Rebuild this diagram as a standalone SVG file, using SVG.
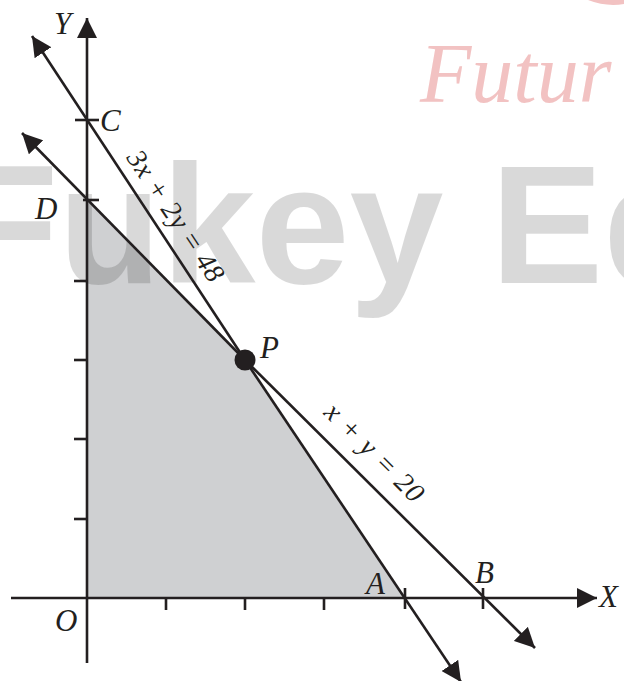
<svg xmlns="http://www.w3.org/2000/svg" width="624" height="681" viewBox="0 0 624 681">
<style>
.ax{stroke:#231f20;stroke-width:2.6;fill:none}
.ln{stroke:#231f20;stroke-width:2.6;fill:none}
.tk{stroke:#231f20;stroke-width:2.6}
.lb{font-family:"Liberation Serif","Times New Roman",serif;font-style:italic;font-size:31px;fill:#231f20}
.eq{font-family:"Liberation Serif","Times New Roman",serif;font-style:italic;font-size:28px;fill:#231f20}
.wm{font-family:"Liberation Sans",Arial,sans-serif;font-weight:bold;font-size:169px;fill:#000;fill-opacity:0.15}
.wp{font-family:"Liberation Serif",serif;font-style:italic;font-size:84px;fill:#f2c2c2}
</style>
<defs>
<marker id="ah" viewBox="0 0 20 20" refX="20" refY="10" markerWidth="20" markerHeight="20" markerUnits="userSpaceOnUse" orient="auto">
<path d="M0,0 L20,10 L0,20 Z" fill="#231f20"/>
</marker>
</defs>
<rect width="624" height="681" fill="#fff"/>
<g id="region">
<polygon points="87,598 405,598 245,360 87,200" fill="#cfd0d2"/>
</g>
<g id="watermark">
<text class="wp" x="420" y="102">Futur</text>
<path d="M588,0 Q606,7 624,4 L624,0 Z" fill="#f2c2c2"/>
<text class="wm" x="-45" y="283">Fukey Ed</text>
</g>
<g id="axes">
<line class="ax" x1="87" y1="663" x2="87" y2="18" marker-end="url(#ah)"/>
<line class="ax" x1="11" y1="598" x2="597" y2="598" marker-end="url(#ah)"/>
<line class="tk" x1="74" y1="519" x2="87" y2="519"/>
<line class="tk" x1="74" y1="439" x2="87" y2="439"/>
<line class="tk" x1="74" y1="360" x2="87" y2="360"/>
<line class="tk" x1="74" y1="281" x2="87" y2="281"/>
<line class="tk" x1="83" y1="200" x2="99" y2="200"/>
<line class="tk" x1="75" y1="120" x2="99" y2="120"/>
<line class="tk" x1="166" y1="598" x2="166" y2="610"/>
<line class="tk" x1="245" y1="598" x2="245" y2="610"/>
<line class="tk" x1="324" y1="598" x2="324" y2="610"/>
<line class="tk" x1="405" y1="588" x2="405" y2="609"/>
<line class="tk" x1="483" y1="588" x2="483" y2="609"/>
<text class="lb" x="54" y="34">Y</text>
<text class="lb" x="599" y="607">X</text>
<text class="lb" x="55" y="631">O</text>
</g>
<g id="connectors">
<line class="ln" x1="245" y1="360" x2="32" y2="36" marker-end="url(#ah)"/>
<line class="ln" x1="245" y1="360" x2="461" y2="682" marker-end="url(#ah)"/>
<line class="ln" x1="245" y1="360" x2="22" y2="133" marker-end="url(#ah)"/>
<line class="ln" x1="245" y1="360" x2="535" y2="648" marker-end="url(#ah)"/>
</g>
<g id="line1-label">
<text class="eq" transform="translate(168,221) rotate(56.3)" text-anchor="middle" textLength="152" lengthAdjust="spacing">3x + 2y = 48</text>
</g>
<g id="line2-label">
<text class="eq" transform="translate(368,459) rotate(45)" text-anchor="middle" textLength="128" lengthAdjust="spacing">x + y = 20</text>
</g>
<g id="C"><text class="lb" x="100" y="131">C</text></g>
<g id="D"><text class="lb" x="35" y="219">D</text></g>
<g id="P"><circle cx="245" cy="360" r="10.5" fill="#231f20"/><text class="lb" x="260" y="358">P</text></g>
<g id="A"><text class="lb" x="366" y="594">A</text></g>
<g id="B"><text class="lb" x="475" y="583">B</text></g>
</svg>
